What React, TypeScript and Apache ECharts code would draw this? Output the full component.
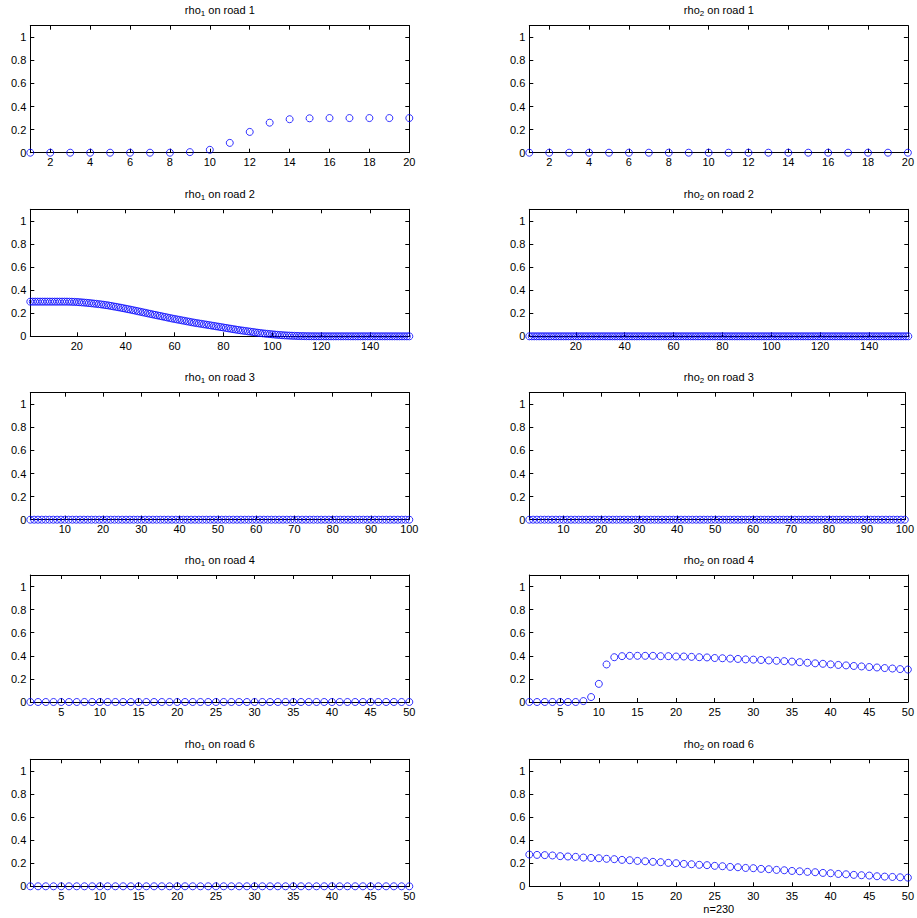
import React, { useEffect, useRef } from "react";
import * as echarts from "echarts";

// ---- data ----
const road1Rho1 = [0, 0, 0, 0, 0, 0, 0, 0, 0.005, 0.025, 0.085, 0.18, 0.26, 0.29, 0.298, 0.3, 0.3, 0.3, 0.3, 0.3];
const road1Rho2 = [0, 0, 0, 0, 0, 0, 0, 0, 0, 0, 0, 0, 0, 0, 0, 0, 0, 0, 0, 0];

const road2Rho1 = [
  0.3, 0.3, 0.3, 0.3, 0.3, 0.3, 0.3, 0.3, 0.3, 0.3, 0.3, 0.3, 0.3, 0.3, 0.3, 0.3,
  0.2995, 0.299, 0.298, 0.297, 0.2955, 0.294, 0.292, 0.29, 0.288, 0.286, 0.2835, 0.281, 0.2785, 0.276,
  0.273, 0.27, 0.267, 0.263, 0.259, 0.2555, 0.2515, 0.2475, 0.2435, 0.239,
  0.2347, 0.2305, 0.226, 0.2215, 0.217, 0.2125, 0.208, 0.2035, 0.199, 0.1945,
  0.19, 0.1855, 0.181, 0.1765, 0.172, 0.1675, 0.163, 0.1585, 0.154, 0.15,
  0.146, 0.142, 0.138, 0.134, 0.13, 0.126, 0.122, 0.118, 0.1145, 0.111,
  0.1075, 0.104, 0.1005, 0.097, 0.0935, 0.09, 0.0865, 0.083, 0.0795, 0.076,
  0.0725, 0.069, 0.0655, 0.062, 0.0585, 0.055, 0.052, 0.049, 0.046, 0.043,
  0.04, 0.037, 0.034, 0.031, 0.0285, 0.026, 0.0235, 0.021, 0.019, 0.017,
  0.015, 0.013, 0.0112, 0.0096, 0.0082, 0.0069, 0.0057, 0.0047, 0.0038, 0.003,
  0.0024, 0.0018, 0.0014, 0.001, 0.0007, 0.0005, 0.0003, 0.0002, 0.0001,
  0, 0, 0, 0, 0, 0, 0, 0, 0, 0, 0, 0, 0, 0, 0, 0, 0, 0, 0, 0,
  0, 0, 0, 0, 0, 0, 0, 0, 0, 0, 0, 0, 0, 0, 0, 0, 0,
];
const road2Rho2 = [
  0, 0, 0, 0, 0, 0, 0, 0, 0, 0, 0, 0, 0, 0, 0, 0, 0, 0, 0, 0, 0, 0, 0, 0, 0,
  0, 0, 0, 0, 0, 0, 0, 0, 0, 0, 0, 0, 0, 0, 0, 0, 0, 0, 0, 0, 0, 0, 0, 0, 0,
  0, 0, 0, 0, 0, 0, 0, 0, 0, 0, 0, 0, 0, 0, 0, 0, 0, 0, 0, 0, 0, 0, 0, 0, 0,
  0, 0, 0, 0, 0, 0, 0, 0, 0, 0, 0, 0, 0, 0, 0, 0, 0, 0, 0, 0, 0, 0, 0, 0, 0,
  0, 0, 0, 0, 0, 0, 0, 0, 0, 0, 0, 0, 0, 0, 0, 0, 0, 0, 0, 0, 0, 0, 0, 0, 0,
  0, 0, 0, 0, 0, 0, 0, 0, 0, 0, 0, 0, 0, 0, 0, 0, 0, 0, 0, 0, 0, 0, 0, 0, 0,
  0, 0, 0, 0, 0, 0,
];

const road3Rho1 = [
  0, 0, 0, 0, 0, 0, 0, 0, 0, 0, 0, 0, 0, 0, 0, 0, 0, 0, 0, 0, 0, 0, 0, 0, 0,
  0, 0, 0, 0, 0, 0, 0, 0, 0, 0, 0, 0, 0, 0, 0, 0, 0, 0, 0, 0, 0, 0, 0, 0, 0,
  0, 0, 0, 0, 0, 0, 0, 0, 0, 0, 0, 0, 0, 0, 0, 0, 0, 0, 0, 0, 0, 0, 0, 0, 0,
  0, 0, 0, 0, 0, 0, 0, 0, 0, 0, 0, 0, 0, 0, 0, 0, 0, 0, 0, 0, 0, 0, 0, 0, 0,
];
const road3Rho2 = [
  0, 0, 0, 0, 0, 0, 0, 0, 0, 0, 0, 0, 0, 0, 0, 0, 0, 0, 0, 0, 0, 0, 0, 0, 0,
  0, 0, 0, 0, 0, 0, 0, 0, 0, 0, 0, 0, 0, 0, 0, 0, 0, 0, 0, 0, 0, 0, 0, 0, 0,
  0, 0, 0, 0, 0, 0, 0, 0, 0, 0, 0, 0, 0, 0, 0, 0, 0, 0, 0, 0, 0, 0, 0, 0, 0,
  0, 0, 0, 0, 0, 0, 0, 0, 0, 0, 0, 0, 0, 0, 0, 0, 0, 0, 0, 0, 0, 0, 0, 0, 0,
];

const road4Rho1 = [
  0, 0, 0, 0, 0, 0, 0, 0, 0, 0, 0, 0, 0, 0, 0, 0, 0, 0, 0, 0, 0, 0, 0, 0, 0,
  0, 0, 0, 0, 0, 0, 0, 0, 0, 0, 0, 0, 0, 0, 0, 0, 0, 0, 0, 0, 0, 0, 0, 0, 0,
];
const road4Rho2 = [
  0, 0, 0, 0, 0, 0, 0, 0.008, 0.043, 0.157, 0.325, 0.388, 0.397, 0.4, 0.4, 0.4, 0.4, 0.397, 0.397, 0.394,
  0.394, 0.391, 0.388, 0.386, 0.381, 0.379, 0.376, 0.373, 0.369, 0.367, 0.364, 0.36, 0.357, 0.354, 0.35,
  0.345, 0.34, 0.335, 0.331, 0.326, 0.321, 0.317, 0.312, 0.308, 0.303, 0.299, 0.294, 0.29, 0.285, 0.281,
];

const road6Rho1 = [
  0, 0, 0, 0, 0, 0, 0, 0, 0, 0, 0, 0, 0, 0, 0, 0, 0, 0, 0, 0, 0, 0, 0, 0, 0,
  0, 0, 0, 0, 0, 0, 0, 0, 0, 0, 0, 0, 0, 0, 0, 0, 0, 0, 0, 0, 0, 0, 0, 0, 0,
];
const road6Rho2 = [
  0.275, 0.272, 0.27, 0.267, 0.261, 0.258, 0.255, 0.249, 0.246, 0.243,
  0.238, 0.235, 0.229, 0.226, 0.22, 0.217, 0.212, 0.209, 0.203, 0.2,
  0.194, 0.191, 0.186, 0.183, 0.177, 0.174, 0.168, 0.165, 0.159, 0.157,
  0.151, 0.148, 0.142, 0.139, 0.133, 0.13, 0.125, 0.122, 0.116, 0.113,
  0.107, 0.104, 0.099, 0.096, 0.093, 0.087, 0.084, 0.081, 0.078, 0.075,
];

const yTicks = [0, 0.2, 0.4, 0.6, 0.8, 1];
const ticksRoad1 = [2, 4, 6, 8, 10, 12, 14, 16, 18, 20];
const ticksRoad2 = [20, 40, 60, 80, 100, 120, 140];
const ticksRoad3 = [10, 20, 30, 40, 50, 60, 70, 80, 90, 100];
const ticksRoad46 = [5, 10, 15, 20, 25, 30, 35, 40, 45, 50];
const xLabelText = "n=230";

const FONT = "'Liberation Sans', Arial, Helvetica, sans-serif";

export default function App() {
  const ref = useRef<HTMLDivElement>(null);

  useEffect(() => {
    if (!ref.current) return;
    const chart = echarts.init(ref.current, null, { renderer: "svg" });

    const panels = [
      { sub: "1", road: "1", data: road1Rho1, ticks: ticksRoad1 },
      { sub: "2", road: "1", data: road1Rho2, ticks: ticksRoad1 },
      { sub: "1", road: "2", data: road2Rho1, ticks: ticksRoad2 },
      { sub: "2", road: "2", data: road2Rho2, ticks: ticksRoad2 },
      { sub: "1", road: "3", data: road3Rho1, ticks: ticksRoad3 },
      { sub: "2", road: "3", data: road3Rho2, ticks: ticksRoad3 },
      { sub: "1", road: "4", data: road4Rho1, ticks: ticksRoad46 },
      { sub: "2", road: "4", data: road4Rho2, ticks: ticksRoad46 },
      { sub: "1", road: "6", data: road6Rho1, ticks: ticksRoad46 },
      { sub: "2", road: "6", data: road6Rho2, ticks: ticksRoad46 },
    ];

    const colLeft = [30.3, 529.3];
    const plotW = 379;
    const rowTop = [25.7, 209.3, 392.7, 575, 759.3];
    const plotH = 127;

    const grid: any[] = [];
    const xAxis: any[] = [];
    const yAxis: any[] = [];
    const series: any[] = [];
    const graphic: any[] = [];

    const lineStyle = { color: "#000", width: 1 };
    const labelStyle = { color: "#000", fontSize: 11, fontFamily: FONT };

    panels.forEach((p, i) => {
      const r = Math.floor(i / 2);
      const c = i % 2;
      grid.push({ left: colLeft[c], top: rowTop[r], width: plotW, height: plotH, show: false });
      const xMax = p.data.length;
      ["bottom", "top"].forEach((pos, k) => {
        xAxis.push({
          type: "value",
          gridIndex: i,
          position: pos,
          min: 1,
          max: xMax,
          axisLine: { show: true, onZero: false, lineStyle },
          splitLine: { show: false },
          axisTick: { show: true, inside: true, length: 4, customValues: p.ticks, lineStyle },
          axisLabel: k === 0 ? { ...labelStyle, margin: 4, customValues: p.ticks } : { show: false },
        });
      });
      ["left", "right"].forEach((pos, k) => {
        yAxis.push({
          type: "value",
          gridIndex: i,
          position: pos,
          min: 0,
          max: 1.1,
          axisLine: { show: true, onZero: false, lineStyle },
          splitLine: { show: false },
          axisTick: { show: true, inside: true, length: 4, customValues: yTicks, lineStyle },
          axisLabel: k === 0 ? { ...labelStyle, margin: 4, customValues: yTicks } : { show: false },
        });
      });
      series.push({
        type: "scatter",
        xAxisIndex: 2 * i,
        yAxisIndex: 2 * i,
        data: p.data.map((v, k) => [k + 1, v]),
        symbol: "circle",
        symbolSize: 7,
        clip: false,
        silent: true,
        itemStyle: { color: "rgba(0,0,0,0)", borderColor: "#0000ff", borderWidth: 1 },
      });
      graphic.push({
        type: "text",
        x: colLeft[c] + plotW / 2,
        y: rowTop[r] - 15.5,
        style: {
          text: `{m|rho}{s|${p.sub}}{m| on road ${p.road}}`,
          align: "center",
          verticalAlign: "middle",
          fill: "#000",
          rich: {
            m: { fontSize: 11, fontFamily: FONT, fill: "#000", lineHeight: 15 },
            s: { fontSize: 8, fontFamily: FONT, fill: "#000", lineHeight: 8, verticalAlign: "bottom" },
          },
        },
      });
    });

    graphic.push({
      type: "text",
      x: colLeft[1] + plotW / 2,
      y: 909,
      style: {
        text: xLabelText,
        align: "center",
        verticalAlign: "middle",
        fill: "#000",
        fontSize: 11,
        fontFamily: FONT,
      },
    });

    chart.setOption({
      animation: false,
      backgroundColor: "#fff",
      grid,
      xAxis,
      yAxis,
      series,
      graphic,
    });

    return () => chart.dispose();
  }, []);

  return (
    <div
      ref={ref}
      style={{ position: "fixed", left: 0, top: 0, width: 917, height: 918, background: "#fff" }}
    />
  );
}
